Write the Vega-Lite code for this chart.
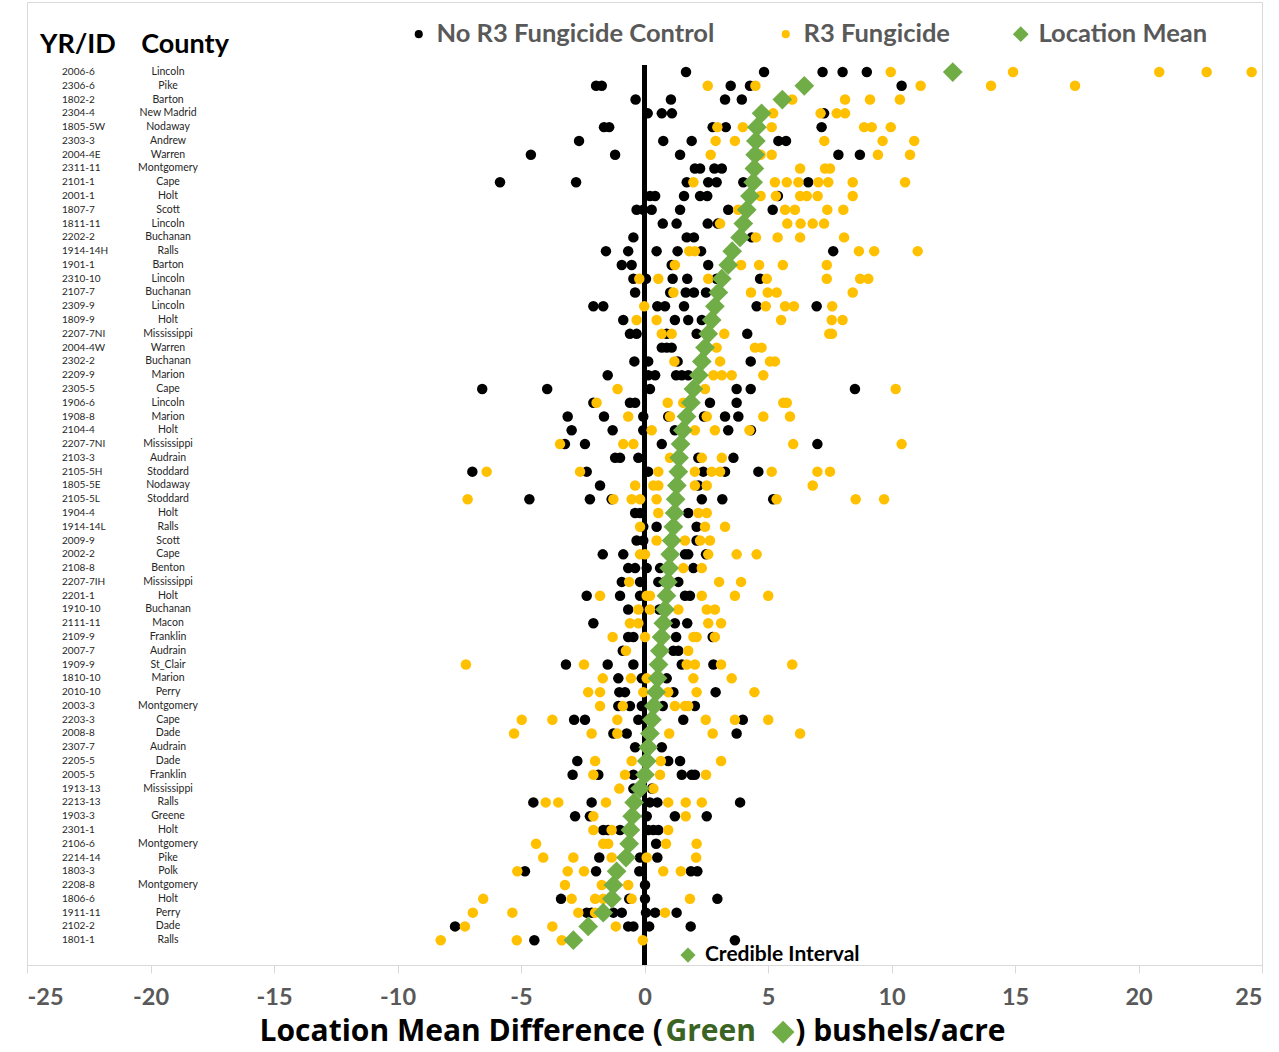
{
"$schema": "https://vega.github.io/schema/vega-lite/v6.json",
"width": 1235, "height": 963,
"autosize": {"type": "none"},
"padding": {"left": 27, "top": 2, "right": 17, "bottom": 87},
"background": "white",
"config": {
  "view": {"stroke": "#d9d9d9", "strokeWidth": 1},
  "font": "Lato",
  "axisX": {"domainColor": "#d9d9d9", "tickColor": "#d9d9d9", "tickSize": 8, "tickCount": 10, "grid": false, "labelFont": "Lato", "labelFontSize": 23.5, "labelFontWeight": "bold", "labelColor": "#595959", "labelPadding": 12, "labelExpr": "toString(datum.value)"},
  "legend": {"orient": "none", "legendX": 379, "legendY": 19, "direction": "horizontal", "title": null, "labelFont": "Lato", "labelFontSize": 25.5, "labelFontWeight": "bold", "labelColor": "#595959", "labelLimit": 500, "symbolSize": 230, "symbolStrokeWidth": 0, "columnPadding": 58, "labelOffset": 5, "padding": 0}
},
"data": {"values": [
{"r":1,"id":"2006-6","c":"Lincoln","m":12.48,"b":[1.68,4.84,7.21,8.02,9.0],"o":[9.97,14.92,20.84,22.76,24.58]},
{"r":2,"id":"2306-6","c":"Pike","m":6.47,"b":[-1.96,-1.73,3.49,4.27,10.41],"o":[2.56,4.49,11.18,14.03,17.43]},
{"r":3,"id":"1802-2","c":"Barton","m":5.58,"b":[-0.36,1.07,3.26,3.94],"o":[5.98,8.12,9.13,10.34]},
{"r":4,"id":"2304-4","c":"New Madrid","m":4.74,"b":[0.13,0.70,1.11,7.27],"o":[5.21,7.13,7.78,8.12]},
{"r":5,"id":"1805-5W","c":"Nodaway","m":4.55,"b":[-1.64,-1.43,2.76,3.29,7.17],"o":[2.95,3.98,5.15,8.89,9.20,9.97]},
{"r":6,"id":"2303-3","c":"Andrew","m":4.51,"b":[-2.65,0.76,1.91,5.42,5.73],"o":[2.88,3.66,7.28,9.64,10.92]},
{"r":7,"id":"2004-4E","c":"Warren","m":4.48,"b":[-4.6,-1.19,1.44,7.85,8.72],"o":[2.68,4.7,5.15,9.45,10.75]},
{"r":8,"id":"2311-11","c":"Montgomery","m":4.45,"b":[2.04,2.25,2.83,3.13],"o":[6.30,7.31,7.51]},
{"r":9,"id":"2101-1","c":"Cape","m":4.40,"b":[-5.85,-2.77,1.71,2.58,2.92,4.0,6.63],"o":[1.98,5.28,5.76,6.23,7.04,7.44,8.43,10.55]},
{"r":10,"id":"2001-1","c":"Holt","m":4.27,"b":[0.22,0.43,1.6,2.25,2.54,5.4],"o":[4.70,5.32,6.30,6.57,7.01,8.43]},
{"r":11,"id":"1807-7","c":"Scott","m":4.14,"b":[-0.32,-0.05,0.29,1.44,3.39,5.19],"o":[3.79,5.69,6.09,7.40,8.05]},
{"r":12,"id":"1811-11","c":"Lincoln","m":4.0,"b":[0.74,1.30,2.56,2.97],"o":[3.06,5.78,6.32,6.81,7.27]},
{"r":13,"id":"2202-2","c":"Buchanan","m":3.87,"b":[-0.45,1.71,2.0,4.34],"o":[4.51,5.39,6.30,8.08]},
{"r":14,"id":"1914-14H","c":"Ralls","m":3.55,"b":[-1.56,-0.66,0.49,1.34,2.29,7.64],"o":[1.81,2.04,8.68,9.30,11.06]},
{"r":15,"id":"1901-1","c":"Barton","m":3.39,"b":[-0.92,-0.52,1.10,2.58],"o":[1.23,3.91,4.64,5.60,7.38]},
{"r":16,"id":"2310-10","c":"Lincoln","m":3.13,"b":[-0.45,0.06,1.14,1.73,2.92,4.68],"o":[-0.21,0.56,2.58,4.95,7.38,8.73,9.06]},
{"r":17,"id":"2107-7","c":"Buchanan","m":2.99,"b":[-0.38,1.04,1.67,2.0,2.49],"o":[1.17,4.31,4.99,5.35,8.43]},
{"r":18,"id":"2309-9","c":"Lincoln","m":2.85,"b":[-2.07,-1.67,0.52,0.83,1.60,4.54,6.97],"o":[-0.01,4.91,5.69,6.05,7.60]},
{"r":19,"id":"1809-9","c":"Holt","m":2.72,"b":[-0.86,1.23,1.77,2.32],"o":[-0.32,0.49,5.53,7.58,8.02]},
{"r":20,"id":"2207-7NI","c":"Mississippi","m":2.58,"b":[-0.59,-0.32,0.90,2.11,4.16],"o":[0.70,1.10,3.23,7.48,7.59]},
{"r":21,"id":"2004-4W","c":"Warren","m":2.45,"b":[0.70,0.90,1.10],"o":[2.92,4.47,4.74]},
{"r":22,"id":"2302-2","c":"Buchanan","m":2.32,"b":[-0.41,0.15,1.34,4.30],"o":[1.21,3.06,5.08,5.28]},
{"r":23,"id":"2209-9","c":"Marion","m":2.2,"b":[-1.49,0.15,0.43,1.28,1.51,1.77],"o":[2.79,3.13,3.53,4.81]},
{"r":24,"id":"2305-5","c":"Cape","m":1.98,"b":[-6.57,-3.94,0.22,3.73,4.30,8.52],"o":[-1.09,2.45,10.17]},
{"r":25,"id":"1906-6","c":"Lincoln","m":1.88,"b":[-2.07,-0.59,-0.38,2.65,3.73],"o":[-1.94,0.94,1.57,5.62,5.76]},
{"r":26,"id":"1908-8","c":"Marion","m":1.7,"b":[-3.11,-1.64,-0.05,0.96,2.41,3.26,3.80],"o":[-0.66,1.03,2.52,4.81,5.89]},
{"r":27,"id":"2104-4","c":"Holt","m":1.55,"b":[-2.95,-1.29,-0.05,1.23,3.39,4.31],"o":[0.29,2.04,2.85,4.25]},
{"r":28,"id":"2207-7NI","c":"Mississippi","m":1.46,"b":[-3.22,-2.41,0.70,7.0],"o":[-3.42,-0.86,-0.45,6.02,10.41]},
{"r":29,"id":"2103-3","c":"Audrain","m":1.40,"b":[-1.19,-0.99,-0.25,2.18,3.60],"o":[1.03,2.32,3.13]},
{"r":30,"id":"2105-5H","c":"Stoddard","m":1.37,"b":[-6.97,-2.34,0.15,2.38,3.26,4.61],"o":[-6.39,-2.61,0.56,2.04,2.72,3.06,5.15,7.0,7.51]},
{"r":31,"id":"1805-5E","c":"Nodaway","m":1.31,"b":[-1.80,1.23,2.18],"o":[-0.38,0.36,0.56,2.04,2.52,6.81]},
{"r":32,"id":"2105-5L","c":"Stoddard","m":1.26,"b":[-4.66,-2.21,-1.33,2.32,3.15,5.21],"o":[-7.16,-1.26,-0.52,-0.18,0.49,5.35,8.55,9.70]},
{"r":33,"id":"1904-4","c":"Holt","m":1.22,"b":[-0.38,-0.18,1.77],"o":[0.56,2.18,2.52]},
{"r":34,"id":"1914-14L","c":"Ralls","m":1.17,"b":[-0.05,0.49,2.11],"o":[-0.18,2.45,3.26]},
{"r":35,"id":"2009-9","c":"Scott","m":1.1,"b":[-0.32,-0.05,2.11],"o":[0.49,1.64,2.25,2.65]},
{"r":36,"id":"2002-2","c":"Cape","m":1.04,"b":[-1.69,-0.86,1.64,1.77,2.49],"o":[-0.18,0.02,2.58,3.73,4.54]},
{"r":37,"id":"2108-8","c":"Benton","m":1.0,"b":[-0.66,-0.38,0.09,0.63,1.98],"o":[1.57,2.32]},
{"r":38,"id":"2207-7IH","c":"Mississippi","m":0.95,"b":[-0.92,-0.18,0.56,0.83,1.37],"o":[-0.62,3.02,3.91]},
{"r":39,"id":"2201-1","c":"Holt","m":0.89,"b":[-2.34,-0.99,-0.18,1.64,1.84],"o":[-1.80,0.09,0.22,2.32,3.66,5.01]},
{"r":40,"id":"1910-10","c":"Buchanan","m":0.83,"b":[-0.66,0.6],"o":[-0.25,0.22,1.37,2.52,2.85]},
{"r":41,"id":"2111-11","c":"Macon","m":0.76,"b":[-2.07,1.23,1.73],"o":[-0.59,-0.25,2.58,3.10]},
{"r":42,"id":"2109-9","c":"Franklin","m":0.69,"b":[-0.66,-0.45,1.28,2.76],"o":[-1.29,0.02,1.98,2.11,2.85]},
{"r":43,"id":"2007-7","c":"Audrain","m":0.62,"b":[-0.88,1.17,1.37],"o":[-0.75,1.77]},
{"r":44,"id":"1909-9","c":"St_Clair","m":0.57,"b":[-3.18,-1.49,-0.45,1.51,2.79],"o":[-7.23,-2.45,1.71,2.04,3.10,5.98]},
{"r":45,"id":"1810-10","c":"Marion","m":0.53,"b":[-1.06,-0.11,0.90],"o":[-1.69,-0.55,0.09,1.98,3.53]},
{"r":46,"id":"2010-10","c":"Perry","m":0.47,"b":[-1.02,-0.79,1.17,2.88],"o":[-2.28,-1.80,-0.05,0.96,2.11,4.45]},
{"r":47,"id":"2003-3","c":"Montgomery","m":0.38,"b":[-1.06,-0.59,-0.11,0.74,2.04],"o":[-1.80,-0.88,1.23,1.64,1.77]},
{"r":48,"id":"2203-3","c":"Cape","m":0.3,"b":[-2.85,-2.41,-0.25,1.57,3.98],"o":[-4.97,-3.73,-1.10,2.48,3.66,5.01]},
{"r":49,"id":"2008-8","c":"Dade","m":0.22,"b":[-1.26,-0.72,3.73],"o":[-5.28,-2.14,-1.10,1.0,2.76,6.30]},
{"r":50,"id":"2307-7","c":"Audrain","m":0.15,"b":[-0.38,0.70],"o":[0.22]},
{"r":51,"id":"2205-5","c":"Dade","m":0.09,"b":[-2.72,0.96,1.44],"o":[-2.0,-0.52,0.66,3.10]},
{"r":52,"id":"2005-5","c":"Franklin","m":0.02,"b":[-2.91,-1.87,-0.45,1.51,1.91,2.04],"o":[-2.07,-0.79,0.63,2.49]},
{"r":53,"id":"1913-13","c":"Mississippi","m":-0.18,"b":[-0.45,0.3],"o":[-1.02,0.36]},
{"r":54,"id":"2213-13","c":"Ralls","m":-0.42,"b":[-4.50,-2.14,0.22,0.52,3.87],"o":[-4.0,-3.49,-1.56,0.96,1.67,2.32]},
{"r":55,"id":"1903-3","c":"Greene","m":-0.5,"b":[-2.81,-2.21,0.09,1.23,2.52],"o":[-2.07,1.67]},
{"r":56,"id":"2301-1","c":"Holt","m":-0.57,"b":[-1.67,-1.47,-0.99,0.15,0.36,0.56],"o":[-2.07,-1.33,0.96]},
{"r":57,"id":"2106-6","c":"Montgomery","m":-0.62,"b":[-0.67,0.47],"o":[-4.39,-1.67,-1.47,0.87,2.11]},
{"r":58,"id":"2214-14","c":"Pike","m":-0.75,"b":[-1.83,-0.18,0.52],"o":[-4.10,-2.88,-1.33,0.09,2.09]},
{"r":59,"id":"1803-3","c":"Polk","m":-1.13,"b":[-4.84,-1.96,-0.21,1.88,2.14],"o":[-5.15,-3.11,-2.45,0.76,1.47]},
{"r":60,"id":"2208-8","c":"Montgomery","m":-1.26,"b":[0.02],"o":[-3.22,-1.73,-0.66]},
{"r":61,"id":"1806-6","c":"Holt","m":-1.32,"b":[-3.38,-0.62,0.02,2.95],"o":[-6.53,-2.95,-2.0,-1.67,-0.52,1.84]},
{"r":62,"id":"1911-11","c":"Perry","m":-1.67,"b":[-2.34,-2.14,-1.26,-0.92,0.06,0.43,1.30],"o":[-6.95,-5.35,-2.68,-2.0,0.83]},
{"r":63,"id":"2102-2","c":"Dade","m":-2.28,"b":[-7.67,-0.66,-0.45,0.19,1.87],"o":[-7.27,-3.73,-1.16]},
{"r":64,"id":"1801-1","c":"Ralls","m":-2.88,"b":[-4.46,3.66],"o":[-8.25,-5.17,-3.35,-0.07]}
]},
"layer": [
{"data": {"values": [{}]},
 "mark": {"type": "rule", "color": "black", "strokeWidth": 5},
 "encoding": {
  "x": {"datum": 0, "type": "quantitative", "scale": {"domain": [-25, 25], "nice": false, "zero": false}, "title": null},
  "y": {"datum": 0.5, "type": "quantitative", "scale": {"domain": [-4.08, 65.8], "reverse": true, "nice": false, "zero": false}, "axis": null},
  "y2": {"datum": 65.8}
 }},
{"transform": [{"flatten": ["b"]}],
 "mark": {"type": "point", "filled": true, "size": 110, "opacity": 1, "strokeWidth": 0},
 "encoding": {
  "x": {"field": "b", "type": "quantitative", "scale": {"domain": [-25, 25], "nice": false, "zero": false}, "title": null},
  "y": {"field": "r", "type": "quantitative", "scale": {"domain": [-4.08, 65.8], "reverse": true, "nice": false, "zero": false}, "axis": null},
  "color": {"datum": "No R3 Fungicide Control", "scale": {"domain": ["No R3 Fungicide Control", "R3 Fungicide", "Location Mean"], "range": ["#000000", "#FFC000", "#70AD47"]}, "legend": {"encoding": {"symbols": {"size": {"value": {"expr": "datum.value === 'Location Mean' ? 250 : 65"}}}}}},
  "shape": {"datum": "No R3 Fungicide Control", "scale": {"domain": ["No R3 Fungicide Control", "R3 Fungicide", "Location Mean"], "range": ["circle", "circle", "diamond"]}}
 }},
{"transform": [{"flatten": ["o"]}],
 "mark": {"type": "point", "filled": true, "size": 110, "opacity": 1, "strokeWidth": 0},
 "encoding": {
  "x": {"field": "o", "type": "quantitative", "scale": {"domain": [-25, 25], "nice": false, "zero": false}, "title": null},
  "y": {"field": "r", "type": "quantitative", "scale": {"domain": [-4.08, 65.8], "reverse": true, "nice": false, "zero": false}, "axis": null},
  "color": {"datum": "R3 Fungicide"},
  "shape": {"datum": "R3 Fungicide"}
 }},
{"mark": {"type": "point", "filled": true, "size": 390, "opacity": 1, "strokeWidth": 0},
 "encoding": {
  "x": {"field": "m", "type": "quantitative", "scale": {"domain": [-25, 25], "nice": false, "zero": false}, "title": null},
  "y": {"field": "r", "type": "quantitative", "scale": {"domain": [-4.08, 65.8], "reverse": true, "nice": false, "zero": false}, "axis": null},
  "color": {"datum": "Location Mean"},
  "shape": {"datum": "Location Mean"}
 }},
{"mark": {"type": "text", "align": "left", "baseline": "middle", "fontSize": 10, "font": "Lato", "color": "#262626"},
 "encoding": {
  "x": {"datum": -23.58, "type": "quantitative", "scale": {"domain": [-25, 25], "nice": false, "zero": false}, "title": null},
  "y": {"field": "r", "type": "quantitative", "scale": {"domain": [-4.08, 65.8], "reverse": true, "nice": false, "zero": false}, "axis": null},
  "text": {"field": "id"}
 }},
{"mark": {"type": "text", "align": "center", "baseline": "middle", "fontSize": 10.5, "font": "Lato", "color": "#262626"},
 "encoding": {
  "x": {"datum": -19.29, "type": "quantitative", "scale": {"domain": [-25, 25], "nice": false, "zero": false}, "title": null},
  "y": {"field": "r", "type": "quantitative", "scale": {"domain": [-4.08, 65.8], "reverse": true, "nice": false, "zero": false}, "axis": null},
  "text": {"field": "c"}
 }},
{"data": {"values": [{}]},
 "mark": {"type": "text", "text": "YR/ID", "align": "center", "baseline": "middle", "fontSize": 27, "fontWeight": "bold", "font": "Lato", "color": "black"},
 "encoding": {
  "x": {"datum": -22.94, "type": "quantitative", "scale": {"domain": [-25, 25], "nice": false, "zero": false}, "title": null},
  "y": {"datum": -0.96, "type": "quantitative", "scale": {"domain": [-4.08, 65.8], "reverse": true, "nice": false, "zero": false}, "axis": null}
 }},
{"data": {"values": [{}]},
 "mark": {"type": "text", "text": "County", "align": "center", "baseline": "middle", "fontSize": 27, "fontWeight": "bold", "font": "Lato", "color": "black"},
 "encoding": {
  "x": {"datum": -18.6, "type": "quantitative", "scale": {"domain": [-25, 25], "nice": false, "zero": false}, "title": null},
  "y": {"datum": -0.96, "type": "quantitative", "scale": {"domain": [-4.08, 65.8], "reverse": true, "nice": false, "zero": false}, "axis": null}
 }},
{"data": {"values": [{}]},
 "mark": {"type": "point", "filled": true, "size": 230, "opacity": 1, "strokeWidth": 0, "shape": "diamond", "color": "#70AD47"},
 "encoding": {
  "x": {"datum": 1.76, "type": "quantitative", "scale": {"domain": [-25, 25], "nice": false, "zero": false}, "title": null},
  "y": {"datum": 65.08, "type": "quantitative", "scale": {"domain": [-4.08, 65.8], "reverse": true, "nice": false, "zero": false}, "axis": null}
 }},
{"data": {"values": [{}]},
 "mark": {"type": "text", "text": "Credible Interval", "align": "left", "baseline": "middle", "fontSize": 21, "fontWeight": "bold", "font": "Lato", "color": "black"},
 "encoding": {
  "x": {"datum": 2.45, "type": "quantitative", "scale": {"domain": [-25, 25], "nice": false, "zero": false}, "title": null},
  "y": {"datum": 65.08, "type": "quantitative", "scale": {"domain": [-4.08, 65.8], "reverse": true, "nice": false, "zero": false}, "axis": null}
 }},
{"data": {"values": [{}]},
 "mark": {"type": "text", "text": "Location Mean Difference (", "align": "right", "baseline": "middle", "fontSize": 30, "fontWeight": "bold", "font": "Open Sans", "color": "black"},
 "encoding": {
  "x": {"datum": 0.75, "type": "quantitative", "scale": {"domain": [-25, 25], "nice": false, "zero": false}, "title": null},
  "y": {"datum": 70.67, "type": "quantitative", "scale": {"domain": [-4.08, 65.8], "reverse": true, "nice": false, "zero": false}, "axis": null}
 }},
{"data": {"values": [{}]},
 "mark": {"type": "text", "text": "Green", "align": "left", "baseline": "middle", "fontSize": 30, "fontWeight": "bold", "font": "Open Sans", "color": "#3B6323"},
 "encoding": {
  "x": {"datum": 0.85, "type": "quantitative", "scale": {"domain": [-25, 25], "nice": false, "zero": false}, "title": null},
  "y": {"datum": 70.67, "type": "quantitative", "scale": {"domain": [-4.08, 65.8], "reverse": true, "nice": false, "zero": false}, "axis": null}
 }},
{"data": {"values": [{}]},
 "mark": {"type": "point", "filled": true, "size": 520, "opacity": 1, "strokeWidth": 0, "shape": "diamond", "color": "#70AD47"},
 "encoding": {
  "x": {"datum": 5.61, "type": "quantitative", "scale": {"domain": [-25, 25], "nice": false, "zero": false}, "title": null},
  "y": {"datum": 70.67, "type": "quantitative", "scale": {"domain": [-4.08, 65.8], "reverse": true, "nice": false, "zero": false}, "axis": null}
 }},
{"data": {"values": [{}]},
 "mark": {"type": "text", "text": ") bushels/acre", "align": "left", "baseline": "middle", "fontSize": 30, "fontWeight": "bold", "font": "Open Sans", "color": "black"},
 "encoding": {
  "x": {"datum": 6.1, "type": "quantitative", "scale": {"domain": [-25, 25], "nice": false, "zero": false}, "title": null},
  "y": {"datum": 70.67, "type": "quantitative", "scale": {"domain": [-4.08, 65.8], "reverse": true, "nice": false, "zero": false}, "axis": null}
 }}
]
}
